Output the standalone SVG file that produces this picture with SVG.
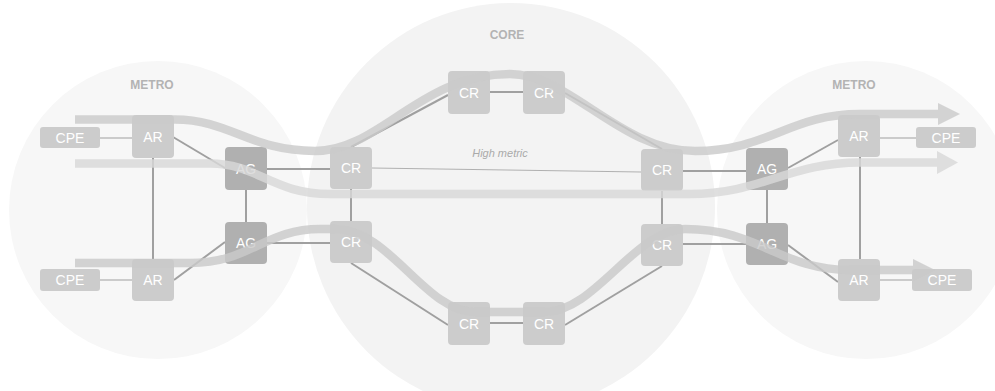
<svg xmlns="http://www.w3.org/2000/svg" width="995" height="391" viewBox="0 0 995 391">
<style>
.zone{fill:#f7f7f7}
.core{fill:#f3f3f3}
.zl{font-family:"Liberation Sans",Arial,sans-serif;font-size:12px;font-weight:bold;fill:#b3b3b3;text-anchor:middle}
.n rect{fill:#cccccc}
.n.ag rect{fill:#b0b0b0}
.n text{font-family:"Liberation Sans",Arial,sans-serif;font-size:14px;fill:#ffffff;text-anchor:middle}
.l{stroke:#a0a0a0;stroke-width:2;fill:none}
.lt{stroke:#bdbdbd;stroke-width:1.5;fill:none}
.hm{stroke:#b0b0b0;stroke-width:1;fill:none}
.f{fill:none;stroke-width:8.5;stroke-linecap:butt;opacity:0.82}
.f1{stroke:#cbcbcb}
.f2{stroke:#d8d8d8}
.f3{stroke:#c9c9c9}
.a{opacity:0.82}
.hl{font-family:"Liberation Sans",Arial,sans-serif;font-size:11px;font-style:italic;fill:#aaaaaa;text-anchor:middle}
</style>
<rect width="995" height="391" fill="#ffffff"/>
<g id="zones">
<circle class="zone" cx="158" cy="210" r="149"/>
<circle class="core" cx="511" cy="207" r="204"/>
<circle class="zone" cx="866" cy="210" r="149"/>
<text class="zl" x="152" y="89">METRO</text>
<text class="zl" x="507" y="39">CORE</text>
<text class="zl" x="854" y="89">METRO</text>
</g>
<g id="connectors">
<line class="lt" x1="100" y1="138" x2="132" y2="138"/>
<line class="lt" x1="100" y1="280" x2="132" y2="280"/>
<line class="l" x1="173" y1="137" x2="225" y2="168"/>
<line class="l" x1="174" y1="280" x2="225" y2="242"/>
<line class="l" x1="153" y1="158" x2="153" y2="259"/>
<line class="l" x1="246" y1="190" x2="246" y2="222"/>
<line class="l" x1="267" y1="169" x2="330" y2="169"/>
<line class="l" x1="267" y1="243" x2="330" y2="243"/>
<line class="l" x1="351" y1="147" x2="448" y2="95"/>
<line class="l" x1="490" y1="92" x2="523" y2="92"/>
<line class="l" x1="565" y1="93" x2="662" y2="149"/>
<line class="hm" x1="372" y1="168" x2="641" y2="172"/>
<line class="l" x1="351" y1="189" x2="351" y2="221"/>
<line class="l" x1="662" y1="191" x2="662" y2="224"/>
<line class="l" x1="351" y1="263" x2="448" y2="325"/>
<line class="l" x1="490" y1="323" x2="523" y2="323"/>
<line class="l" x1="565" y1="325" x2="662" y2="266"/>
<line class="l" x1="683" y1="171" x2="746" y2="171"/>
<line class="l" x1="683" y1="244" x2="746" y2="244"/>
<line class="l" x1="788" y1="168" x2="838" y2="140"/>
<line class="l" x1="788" y1="245" x2="838" y2="282"/>
<line class="l" x1="767" y1="190" x2="767" y2="223"/>
<line class="l" x1="860" y1="157" x2="860" y2="259"/>
<line class="lt" x1="880" y1="138" x2="916" y2="138"/>
<line class="lt" x1="880" y1="280" x2="912" y2="280"/>
<text class="hl" x="500" y="157">High metric</text>
</g>
<g id="cpe-l1" class="n"><rect x="40" y="127" width="60" height="21" rx="3"/><text x="70" y="142.5">CPE</text></g>
<g id="ar-l1" class="n"><rect x="132" y="115" width="42" height="43" rx="4"/><text x="153" y="141.5">AR</text></g>
<g id="ag-l1" class="n ag"><rect x="225" y="147" width="42" height="43" rx="4"/><text x="246" y="173.5">AG</text></g>
<g id="ag-l2" class="n ag"><rect x="225" y="222" width="42" height="42" rx="4"/><text x="246" y="248">AG</text></g>
<g id="ar-l2" class="n"><rect x="132" y="259" width="42" height="42" rx="4"/><text x="153" y="285">AR</text></g>
<g id="cpe-l2" class="n"><rect x="40" y="269" width="60" height="22" rx="3"/><text x="70" y="285">CPE</text></g>
<g id="cr-l1" class="n"><rect x="330" y="147" width="42" height="42" rx="4"/><text x="351" y="173">CR</text></g>
<g id="cr-t1" class="n"><rect x="448" y="71" width="42" height="43" rx="4"/><text x="469" y="97.5">CR</text></g>
<g id="cr-t2" class="n"><rect x="523" y="71" width="42" height="43" rx="4"/><text x="544" y="97.5">CR</text></g>
<g id="cr-r1" class="n"><rect x="641" y="149" width="42" height="42" rx="4"/><text x="662" y="175">CR</text></g>
<g id="cr-l2" class="n"><rect x="330" y="221" width="42" height="42" rx="4"/><text x="351" y="247">CR</text></g>
<g id="cr-r2" class="n"><rect x="641" y="224" width="42" height="42" rx="4"/><text x="662" y="250">CR</text></g>
<g id="cr-b1" class="n"><rect x="448" y="302" width="42" height="43" rx="4"/><text x="469" y="328.5">CR</text></g>
<g id="cr-b2" class="n"><rect x="523" y="302" width="42" height="43" rx="4"/><text x="544" y="328.5">CR</text></g>
<g id="ag-r1" class="n ag"><rect x="746" y="148" width="42" height="42" rx="4"/><text x="767" y="174">AG</text></g>
<g id="ag-r2" class="n ag"><rect x="746" y="223" width="42" height="42" rx="4"/><text x="767" y="249">AG</text></g>
<g id="ar-r1" class="n"><rect x="838" y="115" width="42" height="42" rx="4"/><text x="859" y="141">AR</text></g>
<g id="cpe-r1" class="n"><rect x="916" y="127" width="60" height="21" rx="3"/><text x="946" y="142.5">CPE</text></g>
<g id="ar-r2" class="n"><rect x="838" y="259" width="42" height="42" rx="4"/><text x="859" y="285">AR</text></g>
<g id="cpe-r2" class="n"><rect x="912" y="269" width="60" height="22" rx="3"/><text x="942" y="285">CPE</text></g>
<g id="flows">
<path class="f f1" d="M75,119.5 L175,119.5 C230,119.5 250,151 315,151 C380,151 420,74 510,74 C570,74 620,151 695,151 C768,151 790,114 860,114 L938,114"/>
<polygon class="a" fill="#cbcbcb" points="938,103 960,114 938,125"/>
<path class="f f2" d="M75,163.5 L210,163.5 C258,163.5 272,194 330,194 L690,194 C760,194 790,162.5 860,162.5 L937,162.5"/>
<polygon class="a" fill="#d8d8d8" points="937,151 958,162.5 937,174"/>
<path class="f f3" d="M75,263 L190,263 C250,263 265,229 320,229 L335,229 C390,229 425,312 475,312 L545,312 C595,312 635,229 685,229 C760,229 780,270 850,270 L913,270"/>
<polygon class="a" fill="#c9c9c9" points="913,259 935,270 913,281"/>
</g>
</svg>
